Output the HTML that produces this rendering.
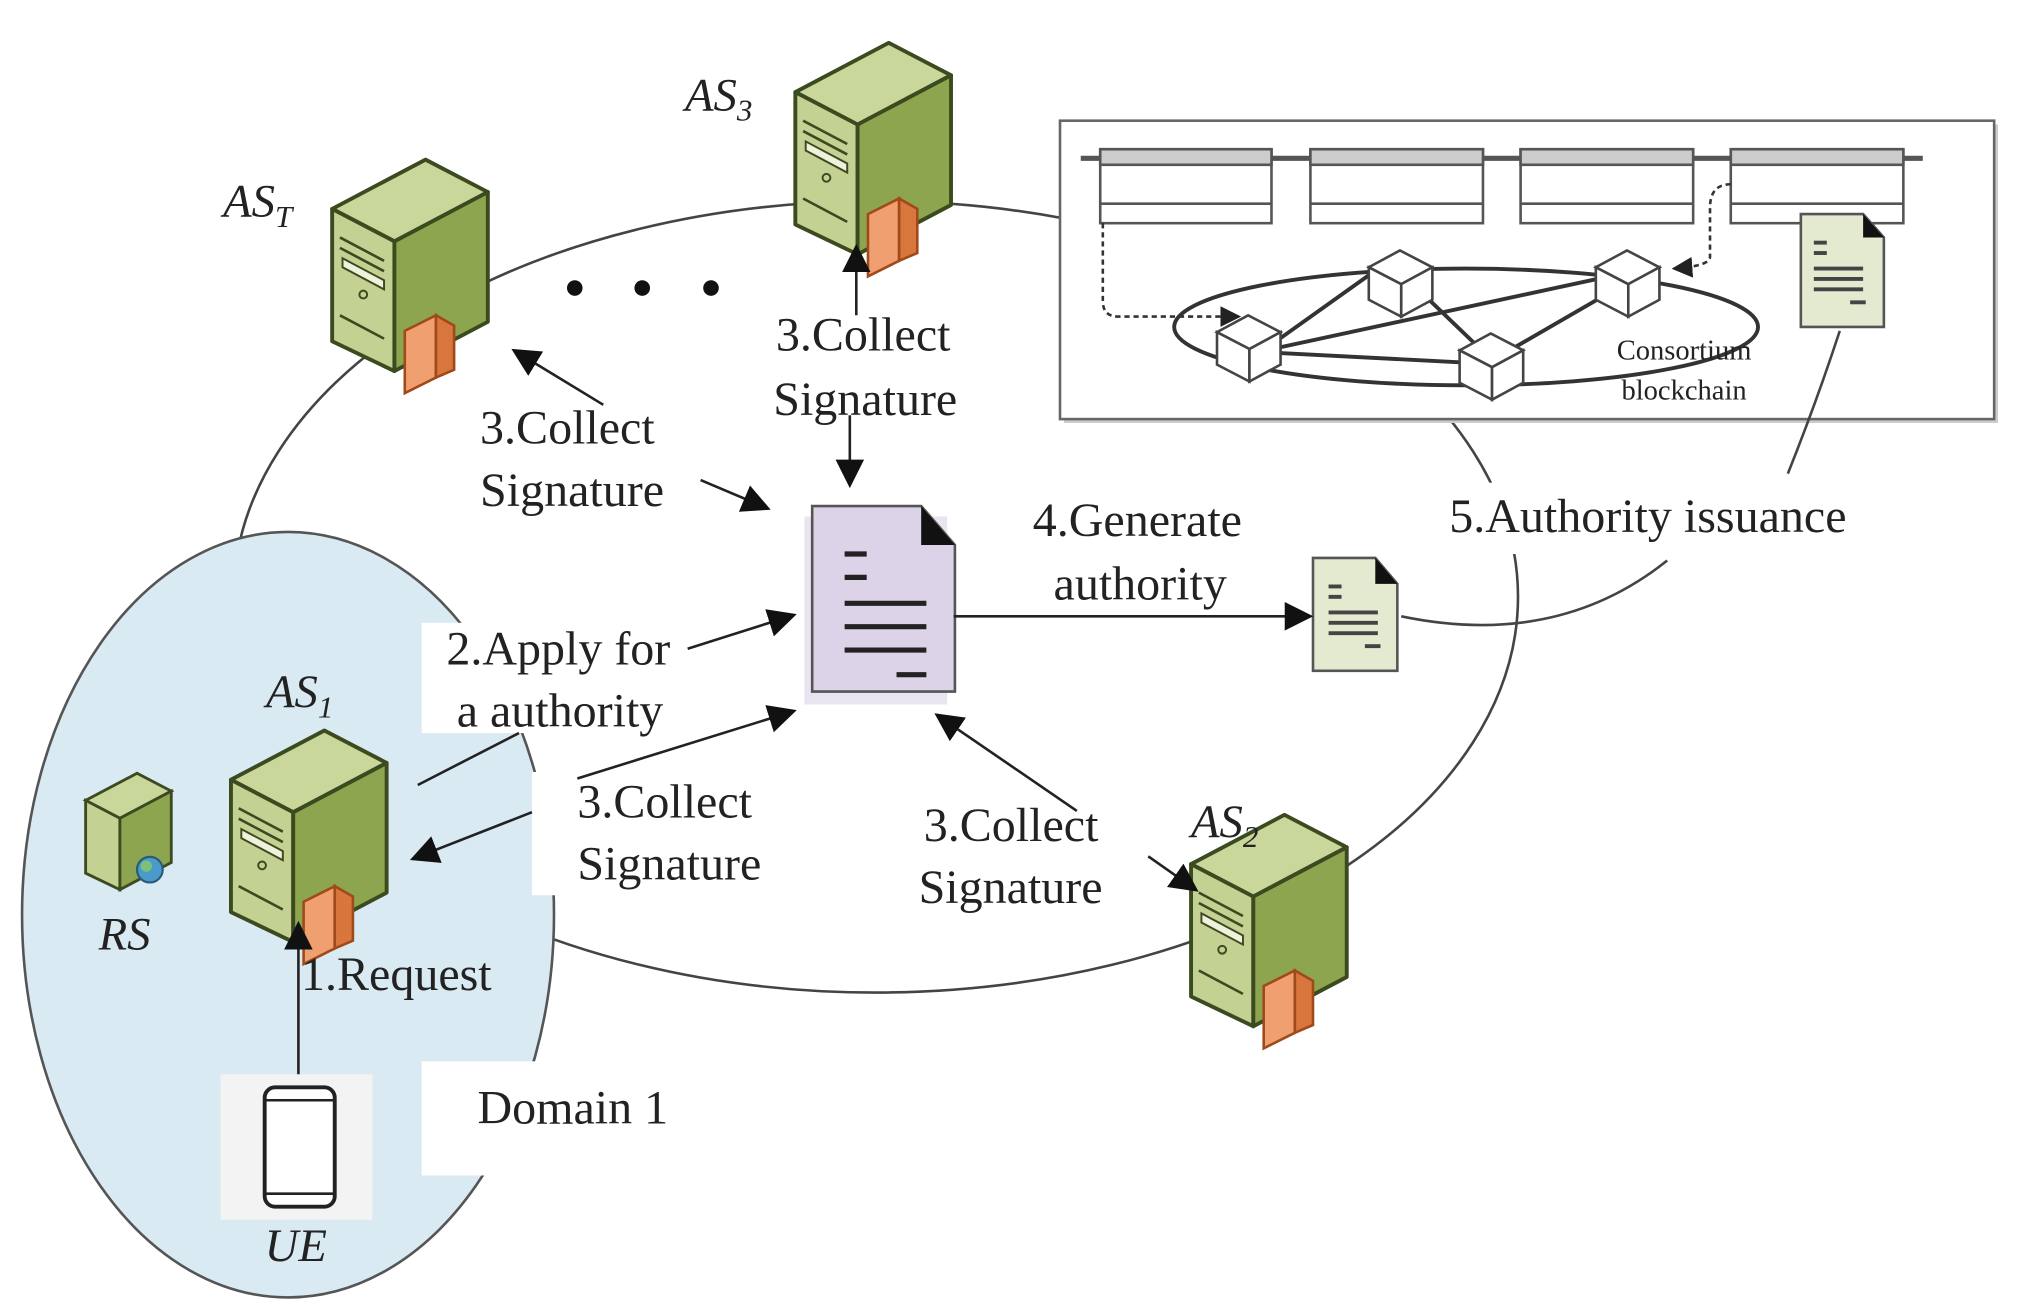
<!DOCTYPE html>
<html><head><meta charset="utf-8"><style>
html,body{margin:0;padding:0;background:#fff;}
svg{display:block;}
text{font-family:"Liberation Serif",serif;fill:#222;}
</style></head><body>
<svg width="2024" height="1315" viewBox="0 0 1560 1013.5" xmlns="http://www.w3.org/2000/svg">
<defs>
<marker id="a" viewBox="0 0 10 10" refX="9" refY="5" markerWidth="22" markerHeight="22" orient="auto-start-reverse" markerUnits="userSpaceOnUse"><path d="M0,0 L10,5 L0,10 z" fill="#111"/></marker>
<marker id="as" viewBox="0 0 10 10" refX="9" refY="5" markerWidth="16" markerHeight="16" orient="auto-start-reverse" markerUnits="userSpaceOnUse"><path d="M0,0 L10,5 L0,10 z" fill="#222"/></marker>
<g id="srv">
 <polygon points="0,38 72,0 120,25 48,63" fill="#c9d79b" stroke="#3c4a20" stroke-width="3" stroke-linejoin="round"/>
 <polygon points="0,38 48,63 48,163 0,140" fill="#c3d193" stroke="#3c4a20" stroke-width="3" stroke-linejoin="round"/>
 <polygon points="48,63 120,25 120,125 48,163" fill="#8ea550" stroke="#3c4a20" stroke-width="3" stroke-linejoin="round"/>
 <polyline points="6,60 40,78" stroke="#3c4a20" stroke-width="2" fill="none"/>
 <polyline points="6,68 40,86" stroke="#3c4a20" stroke-width="2" fill="none"/>
 <polygon points="8,76 40,93 40,100 8,83" fill="#eef2dc" stroke="#3c4a20" stroke-width="1.5"/>
 <circle cx="24" cy="104" r="3" fill="none" stroke="#3c4a20" stroke-width="1.5"/>
 <polyline points="6,120 40,138 M6,126 40,144 M6,132 40,150 M6,138 40,156" stroke="#3c4a20" stroke-width="2" fill="none"/>
 <polygon points="56,132 80,120 80,168 56,180" fill="#f0a070" stroke="#a04a1a" stroke-width="2"/>
 <polygon points="80,120 94,128 94,162 80,168" fill="#d8763e" stroke="#a04a1a" stroke-width="2"/>
</g>
</defs>

<!-- big ring -->
<ellipse cx="675" cy="460" rx="495" ry="305" fill="none" stroke="#444" stroke-width="2"/>

<!-- domain ellipse -->
<ellipse cx="222" cy="705" rx="205" ry="295" fill="#daeaf3" stroke="#555" stroke-width="2"/>

<!-- white label backgrounds -->
<rect x="325" y="480" width="205" height="85" fill="#fff"/>
<rect x="410" y="595" width="190" height="95" fill="#fff"/>
<rect x="325" y="818" width="215" height="88" fill="#fff"/>
<rect x="170" y="828" width="117" height="112" fill="#f3f3f3"/>
<rect x="360" y="315" width="175" height="85" fill="#fff"/>
<rect x="590" y="235" width="170" height="90" fill="#fff"/>
<rect x="700" y="615" width="170" height="90" fill="#fff"/>
<rect x="790" y="380" width="190" height="90" fill="#fff"/>
<rect x="1110" y="372" width="355" height="55" fill="#fff"/>

<!-- blockchain box -->
<rect x="820" y="96" width="720" height="230" fill="#ccc"/>
<rect x="817" y="93" width="720" height="230" fill="#fff" stroke="#666" stroke-width="2"/>
<line x1="833" y1="122" x2="1482" y2="122" stroke="#555" stroke-width="4"/>
<g stroke="#555" stroke-width="2">
 <rect x="848" y="115" width="132" height="57" fill="#fff"/><rect x="848" y="115" width="132" height="12" fill="#ccc"/><line x1="848" y1="157" x2="980" y2="157"/>
 <rect x="1010" y="115" width="133" height="57" fill="#fff"/><rect x="1010" y="115" width="133" height="12" fill="#ccc"/><line x1="1010" y1="157" x2="1143" y2="157"/>
 <rect x="1172" y="115" width="133" height="57" fill="#fff"/><rect x="1172" y="115" width="133" height="12" fill="#ccc"/><line x1="1172" y1="157" x2="1305" y2="157"/>
 <rect x="1334" y="115" width="133" height="57" fill="#fff"/><rect x="1334" y="115" width="133" height="12" fill="#ccc"/><line x1="1334" y1="157" x2="1467" y2="157"/>
</g>
<ellipse cx="1130" cy="252" rx="225" ry="45" fill="none" stroke="#333" stroke-width="3"/>
<g stroke="#333" stroke-width="3">
 <line x1="985" y1="262" x2="1065" y2="205"/><line x1="985" y1="268" x2="1245" y2="212"/><line x1="985" y1="272" x2="1140" y2="280"/>
 <line x1="1090" y1="220" x2="1140" y2="268"/><line x1="1160" y1="272" x2="1250" y2="220"/>
</g>
<path d="M850,172 L850,232 Q850,244 862,244 L955,244" fill="none" stroke="#333" stroke-width="2" stroke-dasharray="4,3" marker-end="url(#as)"/>
<path d="M1334,142 Q1318,142 1318,160 L1318,198 Q1318,205 1290,207" fill="none" stroke="#333" stroke-width="2" stroke-dasharray="4,3" marker-end="url(#as)"/>
<g id="cube" stroke="#444" stroke-width="2" fill="#fff">
 <polygon points="938,256 962,243 987,256 963,269"/><polygon points="938,256 963,269 963,294 938,281"/><polygon points="963,269 987,256 987,281 963,294"/>
</g>
<use href="#cube" x="117" y="-50"/>
<use href="#cube" x="292" y="-50"/>
<use href="#cube" x="187" y="14"/>
<text x="1298" y="277" font-size="22" text-anchor="middle">Consortium</text>
<text x="1298" y="308" font-size="22" text-anchor="middle">blockchain</text>
<g transform="translate(1388,165)">
 <path d="M0,0 L48,0 L64,18 L64,87 L0,87 Z" fill="#e3ead0" stroke="#555" stroke-width="2"/>
 <path d="M48,0 L64,18 L48,18 Z" fill="#111"/>
 <g stroke="#444" stroke-width="3"><line x1="10" y1="22" x2="20" y2="22"/><line x1="10" y1="30" x2="20" y2="30"/><line x1="10" y1="42" x2="48" y2="42"/><line x1="10" y1="50" x2="48" y2="50"/><line x1="10" y1="58" x2="48" y2="58"/><line x1="38" y1="68" x2="50" y2="68"/></g>
</g>

<!-- connectors for 5 -->
<path d="M1378,365 Q1400,310 1418,255" fill="none" stroke="#444" stroke-width="2"/>
<path d="M1080,475 Q1200,500 1285,432" fill="none" stroke="#444" stroke-width="2"/>
<text x="1117" y="410" font-size="37">5.Authority issuance</text>

<!-- servers -->
<use href="#srv" x="256" y="123"/>
<use href="#srv" x="613" y="33"/>
<use href="#srv" x="178" y="563"/>
<use href="#srv" x="918" y="628"/>
<g transform="translate(66,596) scale(0.55)">
 <polygon points="0,38 72,0 120,25 48,63" fill="#c9d79b" stroke="#3c4a20" stroke-width="4"/>
 <polygon points="0,38 48,63 48,163 0,140" fill="#c3d193" stroke="#3c4a20" stroke-width="4"/>
 <polygon points="48,63 120,25 120,125 48,163" fill="#8ea550" stroke="#3c4a20" stroke-width="4"/>
 <circle cx="90" cy="135" r="18" fill="#4a9acb" stroke="#2a5a7a" stroke-width="3"/>
 <circle cx="85" cy="130" r="8" fill="#7cc07a"/>
</g>
<text x="528" y="85" font-size="36" font-style="italic">AS<tspan font-size="24" dy="8">3</tspan></text>
<text x="172" y="167" font-size="36" font-style="italic">AS<tspan font-size="24" dy="8">T</tspan></text>
<text x="205" y="545" font-size="36" font-style="italic">AS<tspan font-size="24" dy="8">1</tspan></text>
<text x="918" y="645" font-size="36" font-style="italic">AS<tspan font-size="24" dy="8">2</tspan></text>
<text x="76" y="732" font-size="36" font-style="italic">RS</text>
<text x="204" y="972" font-size="36" font-style="italic">UE</text>

<circle cx="443" cy="222" r="6" fill="#111"/><circle cx="495" cy="222" r="6" fill="#111"/><circle cx="548" cy="222" r="6" fill="#111"/>

<rect x="204" y="838" width="54" height="92" rx="8" fill="#fff" stroke="#222" stroke-width="3"/>
<line x1="204" y1="848" x2="258" y2="848" stroke="#222" stroke-width="2"/><line x1="204" y1="920" x2="258" y2="920" stroke="#222" stroke-width="2"/>

<rect x="620" y="398" width="110" height="145" fill="#e9e4f0"/>
<g transform="translate(626,390)">
 <path d="M0,0 L84,0 L110,30 L110,143 L0,143 Z" fill="#ddd3e8" stroke="#555" stroke-width="2"/>
 <path d="M84,0 L110,30 L84,30 Z" fill="#111"/>
 <g stroke="#222" stroke-width="4"><line x1="25" y1="37" x2="42" y2="37"/><line x1="25" y1="55" x2="42" y2="55"/><line x1="25" y1="75" x2="88" y2="75"/><line x1="25" y1="93" x2="88" y2="93"/><line x1="25" y1="111" x2="88" y2="111"/><line x1="65" y1="130" x2="88" y2="130"/></g>
</g>
<g transform="translate(1012,430)">
 <path d="M0,0 L48,0 L65,20 L65,87 L0,87 Z" fill="#e3ead0" stroke="#555" stroke-width="2"/>
 <path d="M48,0 L65,20 L48,20 Z" fill="#111"/>
 <g stroke="#444" stroke-width="3"><line x1="12" y1="22" x2="22" y2="22"/><line x1="12" y1="30" x2="22" y2="30"/><line x1="12" y1="42" x2="50" y2="42"/><line x1="12" y1="50" x2="50" y2="50"/><line x1="12" y1="58" x2="50" y2="58"/><line x1="40" y1="68" x2="52" y2="68"/></g>
</g>

<g stroke="#222" stroke-width="2" fill="none">
 <line x1="230" y1="828" x2="230" y2="712" marker-end="url(#a)"/>
 <line x1="322" y1="605" x2="400" y2="565"/>
 <line x1="530" y1="500" x2="612" y2="474" marker-end="url(#a)"/>
 <line x1="410" y1="626" x2="318" y2="662" marker-end="url(#a)"/>
 <line x1="445" y1="600" x2="612" y2="548" marker-end="url(#a)"/>
 <line x1="830" y1="625" x2="722" y2="551" marker-end="url(#a)"/>
 <line x1="885" y1="660" x2="922" y2="686" marker-end="url(#a)"/>
 <line x1="465" y1="312" x2="396" y2="270" marker-end="url(#a)"/>
 <line x1="540" y1="370" x2="592" y2="392" marker-end="url(#a)"/>
 <line x1="660" y1="243" x2="660" y2="190" marker-end="url(#a)"/>
 <line x1="655" y1="320" x2="655" y2="374" marker-end="url(#a)"/>
 <line x1="735" y1="475" x2="1010" y2="475" marker-end="url(#a)"/>
</g>

<g font-size="37">
 <text x="370" y="342">3.Collect</text><text x="370" y="390">Signature</text>
 <text x="598" y="270">3.Collect</text><text x="596" y="320">Signature</text>
 <text x="344" y="512">2.Apply for</text><text x="352" y="560">a authority</text>
 <text x="445" y="630">3.Collect</text><text x="445" y="678">Signature</text>
 <text x="712" y="648">3.Collect</text><text x="708" y="696">Signature</text>
 <text x="796" y="413">4.Generate</text><text x="812" y="462">authority</text>
 <text x="232" y="763">1.Request</text>
 <text x="368" y="866">Domain 1</text>
</g>
</svg>
</body></html>
